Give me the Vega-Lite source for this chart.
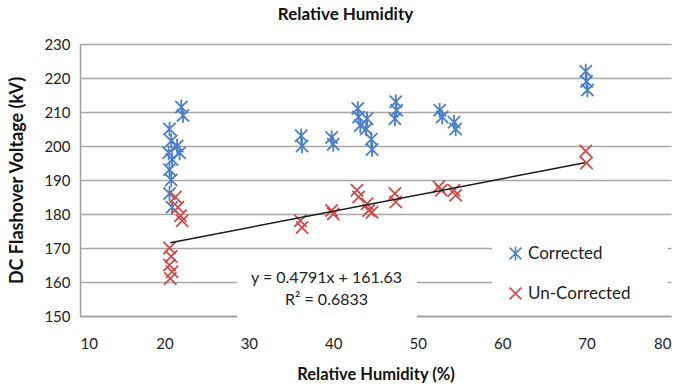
{
  "$schema": "https://vega.github.io/schema/vega-lite/v6.json",
  "width": 591,
  "height": 272,
  "autosize": "none",
  "padding": {"left": 80, "top": 44, "right": 12, "bottom": 74},
  "background": "white",
  "title": {
    "text": "Relative Humidity",
    "font": "Lato",
    "fontSize": 17,
    "fontWeight": "bold",
    "color": "#111111",
    "anchor": "middle",
    "dx": -30,
    "offset": 13
  },
  "config": {
    "view": {"stroke": null},
    "font": "Lato",
    "axis": {
      "labelFont": "Lato",
      "labelFontSize": 15,
      "labelColor": "#222222",
      "labelOverlap": false,
      "titleFont": "Lato",
      "titleFontWeight": "bold",
      "titleColor": "#111111",
      "domainColor": "#9e9e9e",
      "domainWidth": 1.5,
      "gridColor": "#a6a6a6",
      "gridWidth": 1.5,
      "ticks": false
    }
  },
  "datasets": {
    "measurements": [
      {"rh": 20.6, "kv": 205, "series": "Corrected"},
      {"rh": 20.8, "kv": 201.5, "series": "Corrected"},
      {"rh": 20.5, "kv": 198, "series": "Corrected"},
      {"rh": 20.9, "kv": 196, "series": "Corrected"},
      {"rh": 20.6, "kv": 193, "series": "Corrected"},
      {"rh": 20.8, "kv": 190, "series": "Corrected"},
      {"rh": 20.6, "kv": 186, "series": "Corrected"},
      {"rh": 20.9, "kv": 182, "series": "Corrected"},
      {"rh": 21.5, "kv": 200, "series": "Corrected"},
      {"rh": 21.8, "kv": 198, "series": "Corrected"},
      {"rh": 22.0, "kv": 211.5, "series": "Corrected"},
      {"rh": 22.2, "kv": 209, "series": "Corrected"},
      {"rh": 36.2, "kv": 203, "series": "Corrected"},
      {"rh": 36.3, "kv": 200, "series": "Corrected"},
      {"rh": 39.8, "kv": 202.5, "series": "Corrected"},
      {"rh": 40.0, "kv": 200.5, "series": "Corrected"},
      {"rh": 42.9, "kv": 211, "series": "Corrected"},
      {"rh": 43.0, "kv": 208.5, "series": "Corrected"},
      {"rh": 43.2, "kv": 206, "series": "Corrected"},
      {"rh": 44.0, "kv": 208, "series": "Corrected"},
      {"rh": 43.9, "kv": 205, "series": "Corrected"},
      {"rh": 44.5, "kv": 202, "series": "Corrected"},
      {"rh": 44.6, "kv": 199, "series": "Corrected"},
      {"rh": 47.4, "kv": 213, "series": "Corrected"},
      {"rh": 47.5, "kv": 210.5, "series": "Corrected"},
      {"rh": 47.3, "kv": 208, "series": "Corrected"},
      {"rh": 52.6, "kv": 210.5, "series": "Corrected"},
      {"rh": 52.9, "kv": 208.5, "series": "Corrected"},
      {"rh": 54.3, "kv": 207, "series": "Corrected"},
      {"rh": 54.5, "kv": 205, "series": "Corrected"},
      {"rh": 69.9, "kv": 222, "series": "Corrected"},
      {"rh": 70.0, "kv": 219, "series": "Corrected"},
      {"rh": 70.1, "kv": 216.5, "series": "Corrected"},
      {"rh": 20.6, "kv": 170, "series": "Un-Corrected"},
      {"rh": 20.8, "kv": 167.5, "series": "Un-Corrected"},
      {"rh": 20.6, "kv": 165, "series": "Un-Corrected"},
      {"rh": 20.9, "kv": 163, "series": "Un-Corrected"},
      {"rh": 20.7, "kv": 161, "series": "Un-Corrected"},
      {"rh": 21.3, "kv": 185, "series": "Un-Corrected"},
      {"rh": 21.6, "kv": 182, "series": "Un-Corrected"},
      {"rh": 21.9, "kv": 179.5, "series": "Un-Corrected"},
      {"rh": 22.1, "kv": 178, "series": "Un-Corrected"},
      {"rh": 36.1, "kv": 178, "series": "Un-Corrected"},
      {"rh": 36.3, "kv": 176, "series": "Un-Corrected"},
      {"rh": 39.8, "kv": 181, "series": "Un-Corrected"},
      {"rh": 40.0, "kv": 180, "series": "Un-Corrected"},
      {"rh": 42.8, "kv": 187, "series": "Un-Corrected"},
      {"rh": 43.0, "kv": 185, "series": "Un-Corrected"},
      {"rh": 44.0, "kv": 183, "series": "Un-Corrected"},
      {"rh": 44.2, "kv": 181, "series": "Un-Corrected"},
      {"rh": 44.6, "kv": 180.5, "series": "Un-Corrected"},
      {"rh": 47.3, "kv": 186, "series": "Un-Corrected"},
      {"rh": 47.4, "kv": 183.5, "series": "Un-Corrected"},
      {"rh": 52.5, "kv": 188, "series": "Un-Corrected"},
      {"rh": 52.8, "kv": 187, "series": "Un-Corrected"},
      {"rh": 54.3, "kv": 187, "series": "Un-Corrected"},
      {"rh": 54.5, "kv": 185.5, "series": "Un-Corrected"},
      {"rh": 69.9, "kv": 198.5, "series": "Un-Corrected"},
      {"rh": 70.0, "kv": 195, "series": "Un-Corrected"}
    ],
    "trend": [
      {"rh": 20.7, "kv": 171.547},
      {"rh": 69.8, "kv": 195.071}
    ],
    "single": [{}]
  },
  "layer": [
    {
      "data": {"name": "measurements"},
      "mark": {"type": "point", "filled": false, "strokeWidth": 1.8, "size": 150, "opacity": 1},
      "encoding": {
        "x": {
          "field": "rh", "type": "quantitative",
          "scale": {"domain": [10, 80], "nice": false, "zero": false},
          "axis": {"title": "Relative Humidity (%)", "titleFontSize": 16.5, "values": [10, 20, 30, 40, 50, 60, 70, 80], "grid": false, "labelPadding": 20, "titlePadding": 15}
        },
        "y": {
          "field": "kv", "type": "quantitative",
          "scale": {"domain": [150, 230], "nice": false, "zero": false},
          "axis": {"title": "DC Flashover  Voltage (kV)", "titleFontSize": 18, "values": [150, 160, 170, 180, 190, 200, 210, 220, 230], "grid": true, "labelPadding": 10, "titlePadding": 17}
        },
        "color": {
          "field": "series", "type": "nominal",
          "scale": {"domain": ["Corrected", "Un-Corrected"], "range": ["#4a7ec9", "#cf4a48"]},
          "legend": {
            "orient": "none", "legendX": 427, "legendY": 201, "title": null,
            "labelFont": "Lato", "labelFontSize": 17, "labelColor": "#222222",
            "rowPadding": 20, "symbolSize": 140, "symbolStrokeWidth": 1.6, "labelOffset": 4
          }
        },
        "shape": {
          "field": "series", "type": "nominal",
          "scale": {"domain": ["Corrected", "Un-Corrected"], "range": ["M-1,-1L1,1M-1,1L1,-1M0,-1.2L0,1.2", "M-1,-1L1,1M-1,1L1,-1"]},
          "legend": null
        }
      }
    },
    {
      "data": {"name": "single"},
      "mark": {"type": "rect", "color": "white"},
      "encoding": {
        "x": {"datum": 28.6, "type": "quantitative", "axis": {"title": "Relative Humidity (%)", "titleFontSize": 16.5, "values": [10, 20, 30, 40, 50, 60, 70, 80], "grid": false, "labelPadding": 20, "titlePadding": 15}},
        "x2": {"datum": 49.9},
        "y": {"datum": 165.8, "type": "quantitative", "axis": {"title": "DC Flashover  Voltage (kV)", "titleFontSize": 18, "values": [150, 160, 170, 180, 190, 200, 210, 220, 230], "grid": true, "labelPadding": 10, "titlePadding": 17}},
        "y2": {"datum": 149.4}
      }
    },
    {
      "data": {"name": "single"},
      "mark": {"type": "rect", "color": "white"},
      "encoding": {
        "x": {"datum": 58.8, "type": "quantitative", "axis": {"title": "Relative Humidity (%)", "titleFontSize": 16.5, "values": [10, 20, 30, 40, 50, 60, 70, 80], "grid": false, "labelPadding": 20, "titlePadding": 15}},
        "x2": {"datum": 79.6},
        "y": {"datum": 175, "type": "quantitative", "axis": {"title": "DC Flashover  Voltage (kV)", "titleFontSize": 18, "values": [150, 160, 170, 180, 190, 200, 210, 220, 230], "grid": true, "labelPadding": 10, "titlePadding": 17}},
        "y2": {"datum": 153}
      }
    },
    {
      "data": {"name": "trend"},
      "mark": {"type": "line", "color": "#1a1a1a", "strokeWidth": 1.5},
      "encoding": {
        "x": {"field": "rh", "type": "quantitative", "axis": {"title": "Relative Humidity (%)", "titleFontSize": 16.5, "values": [10, 20, 30, 40, 50, 60, 70, 80], "grid": false, "labelPadding": 20, "titlePadding": 15}},
        "y": {"field": "kv", "type": "quantitative", "axis": {"title": "DC Flashover  Voltage (kV)", "titleFontSize": 18, "values": [150, 160, 170, 180, 190, 200, 210, 220, 230], "grid": true, "labelPadding": 10, "titlePadding": 17}}
      }
    },
    {
      "data": {"name": "single"},
      "mark": {"type": "text", "text": ["y = 0.4791x + 161.63", "R² = 0.6833"], "font": "Lato", "fontSize": 16, "color": "#222222", "align": "center", "baseline": "top", "lineHeight": 22},
      "encoding": {
        "x": {"datum": 39.2, "type": "quantitative", "axis": {"title": "Relative Humidity (%)", "titleFontSize": 16.5, "values": [10, 20, 30, 40, 50, 60, 70, 80], "grid": false, "labelPadding": 20, "titlePadding": 15}},
        "y": {"datum": 163.6, "type": "quantitative", "axis": {"title": "DC Flashover  Voltage (kV)", "titleFontSize": 18, "values": [150, 160, 170, 180, 190, 200, 210, 220, 230], "grid": true, "labelPadding": 10, "titlePadding": 17}}
      }
    }
  ]
}
